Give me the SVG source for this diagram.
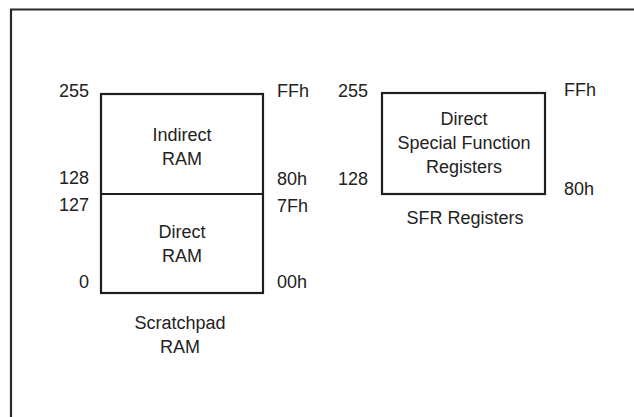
<svg xmlns="http://www.w3.org/2000/svg" width="634" height="417" viewBox="0 0 634 417">
<style>
.frame{fill:none;stroke:#2b2b2b;stroke-width:2.2}
.box{fill:#fff;stroke:#1e1e1e;stroke-width:2.2}
.t{font-family:"Liberation Sans",Arial,sans-serif;font-size:18px;fill:#222}
.s{font-family:"Liberation Sans",Arial,sans-serif;font-size:18px;fill:#222}
.m{text-anchor:middle}
.r{text-anchor:end}
</style>
<rect width="634" height="417" fill="#fff"/>
<path class="frame" d="M11,417 V9.5 H634"/>
<g id="scratchpad">
<rect class="box" x="101" y="94" width="162" height="199"/>
<line class="box" x1="101" y1="194" x2="263" y2="194"/>
<text class="s r" x="89" y="97">255</text>
<text class="s r" x="89" y="184">128</text>
<text class="s r" x="89" y="211">127</text>
<text class="s r" x="89" y="288">0</text>
<text class="s" x="277" y="97">FFh</text>
<text class="s" x="277" y="185">80h</text>
<text class="s" x="277" y="212">7Fh</text>
<text class="s" x="277" y="288">00h</text>
<text class="t m" x="182" y="141">Indirect</text>
<text class="t m" x="182" y="165">RAM</text>
<text class="t m" x="182" y="238">Direct</text>
<text class="t m" x="182" y="262">RAM</text>
<text class="t m" x="180" y="329">Scratchpad</text>
<text class="t m" x="180" y="353">RAM</text>
</g>
<g id="sfr">
<rect class="box" x="382" y="93" width="163" height="101"/>
<text class="s r" x="368" y="97">255</text>
<text class="s r" x="368" y="185">128</text>
<text class="s" x="564" y="96">FFh</text>
<text class="s" x="564" y="195">80h</text>
<text class="t m" x="464" y="125">Direct</text>
<text class="t m" x="464" y="149">Special Function</text>
<text class="t m" x="464" y="173">Registers</text>
<text class="t m" x="465" y="224">SFR Registers</text>
</g>
<g id="connectors"/>
</svg>
